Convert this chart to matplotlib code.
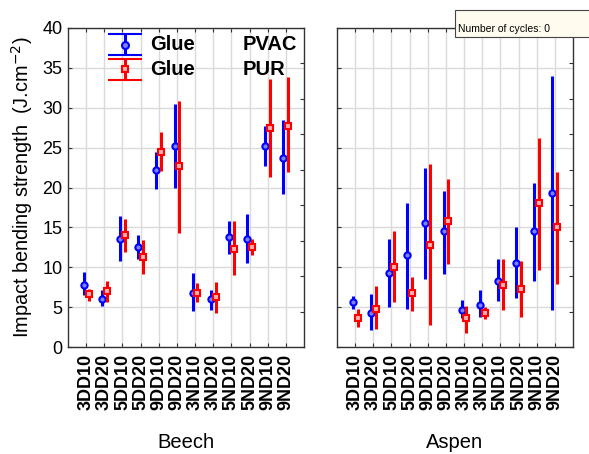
import matplotlib
matplotlib.use("Agg")
import matplotlib.pyplot as plt
from matplotlib.patches import Rectangle
import numpy as np

plt.rcParams["font.family"] = ["Liberation Sans", "DejaVu Sans"]

categories = ["3DD10", "3DD20", "5DD10", "5DD20", "9DD10", "9DD20",
              "3ND10", "3ND20", "5ND10", "5ND20", "9ND10", "9ND20"]

# Beech - PVAC glue (mean, lower, upper)
beech_pvac = [7.8, 6.0, 13.5, 12.5, 22.2, 25.2, 6.8, 6.0, 13.8, 13.5, 25.2, 23.7]
beech_pvac_lo = [6.5, 5.1, 10.8, 11.0, 19.8, 19.9, 4.5, 4.7, 11.7, 10.5, 22.7, 19.2]
beech_pvac_hi = [9.4, 7.1, 16.4, 14.1, 24.5, 30.5, 9.3, 7.2, 15.8, 16.7, 27.7, 28.5]
# Beech - PUR glue
beech_pur = [6.6, 7.0, 14.0, 11.3, 24.5, 22.7, 6.8, 6.3, 12.3, 12.5, 27.5, 27.7]
beech_pur_lo = [5.8, 5.6, 11.9, 9.2, 22.1, 14.3, 5.6, 4.3, 9.0, 11.5, 21.3, 21.9]
beech_pur_hi = [7.3, 8.3, 16.1, 13.4, 26.9, 30.9, 8.0, 8.2, 15.8, 13.6, 33.6, 33.8]

# Aspen - PVAC glue
aspen_pvac = [5.6, 4.3, 9.3, 11.5, 15.5, 14.5, 4.6, 5.3, 8.3, 10.5, 14.5, 19.3]
aspen_pvac_lo = [4.8, 2.1, 5.0, 4.8, 8.5, 9.2, 3.6, 3.7, 5.8, 6.1, 8.3, 4.6]
aspen_pvac_hi = [6.4, 6.6, 13.5, 18.1, 22.4, 19.5, 5.9, 7.1, 11.0, 15.0, 20.6, 34.0]
# Aspen - PUR glue
aspen_pur = [3.6, 4.8, 10.0, 6.8, 12.8, 15.8, 3.6, 4.3, 7.8, 7.3, 18.0, 15.0]
aspen_pur_lo = [2.5, 2.2, 5.6, 4.5, 2.8, 10.4, 1.7, 3.5, 4.7, 3.8, 9.6, 7.9]
aspen_pur_hi = [4.8, 7.6, 14.6, 8.8, 23.0, 21.1, 5.2, 5.0, 11.0, 10.8, 26.2, 21.9]

species = ["Beech", "Aspen"]

W, H = 589, 454
fig = plt.figure(figsize=(W / 100, H / 100), dpi=100)
fig.patch.set_facecolor("white")

ax_l = fig.add_axes([68 / W, 1 - 347 / H, 236 / W, 319 / H])
ax_r = fig.add_axes([337 / W, 1 - 347 / H, 236 / W, 319 / H])

x = np.arange(1, len(categories) + 1)
off = 0.13
blue = "#0000ff"
red = "#ff0000"


def draw(ax, m1, lo1, hi1, m2, lo2, hi2, show_ylabels):
    m1, lo1, hi1 = map(np.asarray, (m1, lo1, hi1))
    m2, lo2, hi2 = map(np.asarray, (m2, lo2, hi2))
    ax.set_xlim(0, len(categories) + 1)
    ax.set_ylim(0, 40)
    ax.set_yticks(np.arange(0, 41, 5))
    ax.set_xticks(x)
    ax.set_xticklabels(categories, rotation=90, fontweight="bold", fontsize=13)
    ax.grid(True, color="#dadada", linewidth=1.0)
    ax.set_axisbelow(True)
    ax.tick_params(axis="both", direction="in", length=3, color="#333333",
                   labelsize=13, top=True, right=False, pad=4)
    ax.tick_params(axis="x", pad=5)
    if not show_ylabels:
        ax.tick_params(axis="y", labelleft=False)
    for s in ax.spines.values():
        s.set_color("#333333")
        s.set_linewidth(1.0)
    # unlabeled right-hand scale
    sec = ax.secondary_yaxis("right")
    sec.set_yticks(np.linspace(0, 40, 10))
    sec.tick_params(direction="in", length=3, color="#333333", labelright=False)
    sec.spines["right"].set_visible(False)

    ax.errorbar(x - off, m1, yerr=[m1 - lo1, hi1 - m1], fmt="o", color=blue,
                ecolor=blue, elinewidth=2.2, capsize=0, markersize=4.5,
                markerfacecolor="#7f80ff", markeredgecolor=blue, markeredgewidth=1.5,
                zorder=3)
    ax.errorbar(x + off, m2, yerr=[m2 - lo2, hi2 - m2], fmt="s", color=red,
                ecolor=red, elinewidth=2.2, capsize=0, markersize=5,
                markerfacecolor="#ffb0b0", markeredgecolor=red, markeredgewidth=1.5,
                zorder=4)


draw(ax_l, beech_pvac, beech_pvac_lo, beech_pvac_hi,
     beech_pur, beech_pur_lo, beech_pur_hi, True)
draw(ax_r, aspen_pvac, aspen_pvac_lo, aspen_pvac_hi,
     aspen_pur, aspen_pur_lo, aspen_pur_hi, False)

ax_l.set_ylabel("Impact bending strength  (J.cm$^{-2}$)", fontsize=14.3, labelpad=5)

# legend drawn inside the left panel
legend_rows = [("Glue", "PVAC", blue, "o", "#7f80ff", 37.9),
               ("Glue", "PUR", red, "s", "#ffb0b0", 34.8)]
for g, name, col, mk, fc, yv in legend_rows:
    ax_l.errorbar([3.14], [yv], yerr=[[1.3], [1.3]], fmt=mk, color=col, ecolor=col,
                  elinewidth=2.2, capsize=12, capthick=2.2, markersize=5,
                  markerfacecolor=fc, markeredgecolor=col, markeredgewidth=1.5,
                  zorder=5)
    ax_l.text(4.5, yv, g, fontsize=14.5, fontweight="bold", va="center", ha="left")
    ax_l.text(9.6, yv, name, fontsize=14.5, fontweight="bold", va="center", ha="left")

# species names beneath each panel
for ax, sp in zip((ax_l, ax_r), species):
    pos = ax.get_position()
    fig.text(pos.x0 + pos.width / 2, 1 - 443 / H, sp, ha="center", va="center",
             fontsize=14.5)

# note box in the upper right corner
fig.patches.append(Rectangle((455 / W, 1 - 37 / H), 140 / W, 27 / H,
                             transform=fig.transFigure, facecolor="#fffbef",
                             edgecolor="#444444", linewidth=0.8, zorder=10))
fig.text(458 / W, 1 - 29 / H, "Number of cycles: 0", fontsize=7.5, ha="left",
         va="center", zorder=11)

fig.savefig("out.png", dpi=100)
